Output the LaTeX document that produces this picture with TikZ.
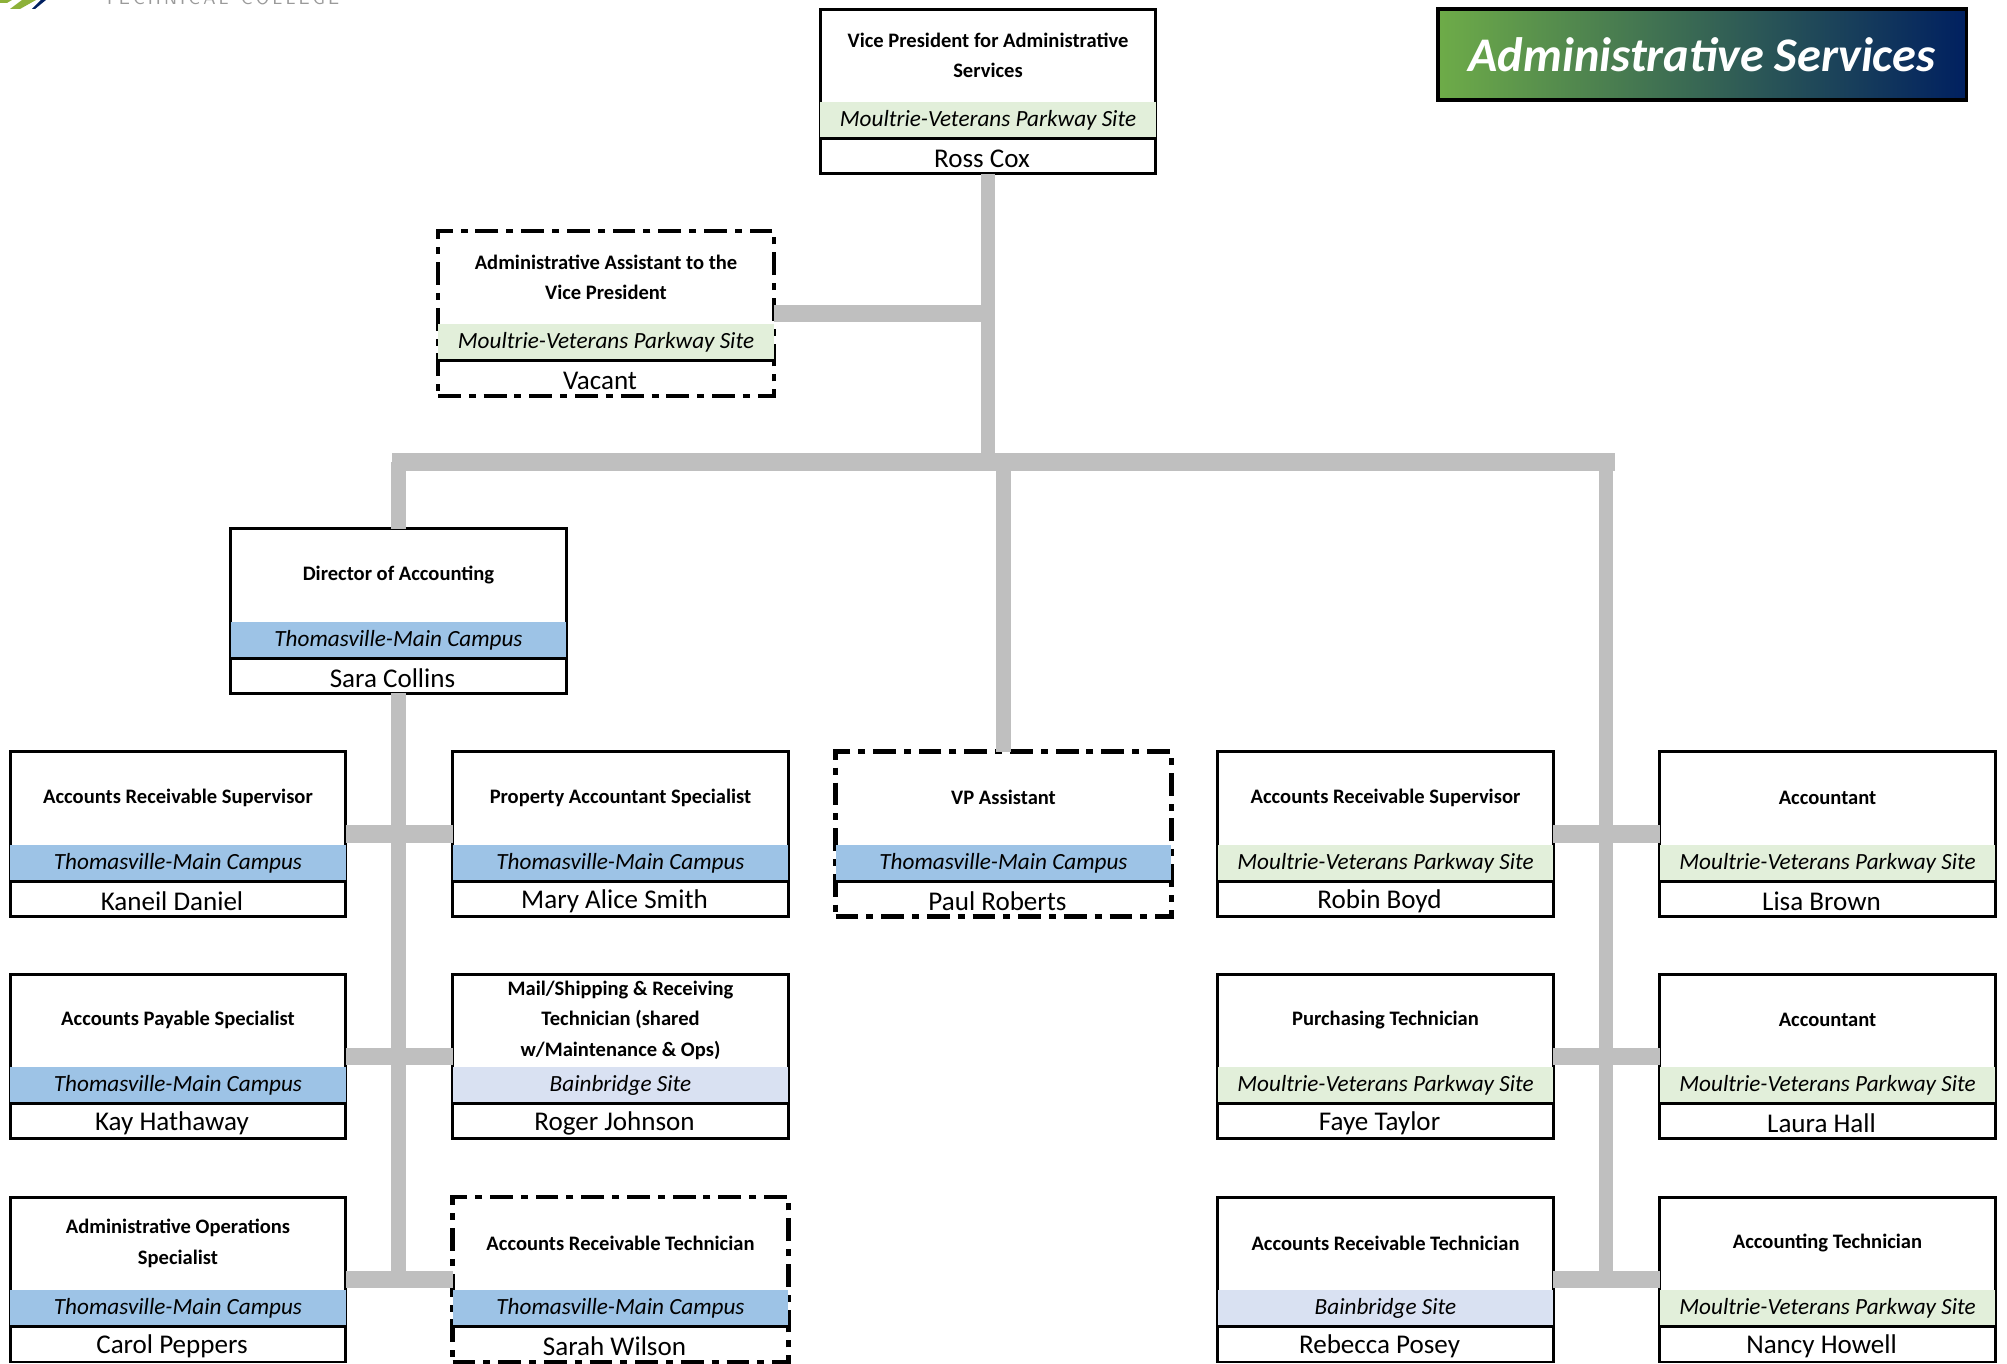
\documentclass[tikz,border=0pt]{standalone}
\usepackage{fontspec}
\setmainfont{Carlito}
\usetikzlibrary{positioning}
\definecolor{linegray}{HTML}{BFBFBF}
\definecolor{sitegreen}{HTML}{E2EFDA}
\definecolor{siteblue}{HTML}{9DC3E6}
\definecolor{sitelilac}{HTML}{D9E1F2}
\definecolor{bannergreen}{HTML}{6EAC48}
\definecolor{bannernavy}{HTML}{002060}
\definecolor{logogreen}{HTML}{8DB13A}
\definecolor{logotext}{HTML}{9A9A9A}
\tikzset{
    solidbox/.style={draw=black, line width=1.7pt, outer sep=0pt, inner sep=0pt,
        minimum width=6.72cm, minimum height=3.3cm},
    vacantbox/.style={solidbox, line width=2.8pt,
        dash pattern=on 13pt off 4.5pt on 4pt off 4.5pt},
    titlecell/.style={font=\fontsize{11.7}{17.6}\selectfont\bfseries, align=center,
        inner sep=0pt, minimum height=1.84cm},
    sitecell/.style={font=\fontsize{13.2}{15}\selectfont\itshape, inner sep=0pt,
        minimum width=6.72cm, minimum height=.72cm},
    namecell/.style={font=\fontsize{15.4}{17}\selectfont, inner sep=0pt, minimum height=.72cm},
    rowline/.style={draw=black, line width=1.7pt},
    trunk/.style={draw=linegray, line width=8.5pt},
    stem/.style={draw=linegray, line width=8pt},
    bar/.style={draw=linegray, line width=10pt},
}
% frame, then title, site band, rule and person
\newcommand{\orgbox}[8][solidbox]{%
    \node[#1] (#2) at (#3) {};
    \node[titlecell, below=0pt of #2.north] (#2-title) {#4};
    \node[sitecell, fill=#5, below=1.86cm of #2.north] (#2-site) {#6};
    \draw[rowline] (#2-site.south west) -- (#2-site.south east);
    \node[namecell, below=.03cm of #2-site, xshift=-.12cm] (#2-name) {#7};
    #8
}
\begin{document}
\begin{tikzpicture}[x=.02cm, y=-.02cm]
\useasboundingbox (0,0) rectangle (2007,1364);
% logo, cut off by the page edge
\fill[logogreen] (10,9) -- (20,9) -- (36,0) -- (22,0) -- cycle;
\fill[logogreen] (0,3) -- (7,3) -- (12,0) -- (0,0) -- cycle;
\fill[bannernavy] (32,9) -- (35,9) -- (46,0) -- (41,0) -- cycle;
\node[font=\fontsize{10.5}{12}\selectfont\sffamily, text=logotext, inner sep=0pt,
    anchor=base west] (logotext) at (103,5) {T\,E\,C\,H\,N\,I\,C\,A\,L\ \ C\,O\,L\,L\,E\,G\,E};

% top of the chart
\orgbox{vp}{988,91.5}{Vice President for Administrative\\Services}{sitegreen}{Moultrie-Veterans Parkway Site}{Ross Cox}{}
\orgbox[vacantbox]{assistant}{606,313.5}{Administrative Assistant to the\\Vice President}{sitegreen}{Moultrie-Veterans Parkway Site}{Vacant}{}
\orgbox{director}{398.5,611}{Director of Accounting}{siteblue}{Thomasville-Main Campus}{Sara Collins}{}
\orgbox[vacantbox]{vpassist}{1003.5,834}{VP Assistant}{siteblue}{Thomasville-Main Campus}{Paul Roberts}{}

% left pair of columns
\orgbox{kaneil}{178,834}{Accounts Receivable Supervisor}{siteblue}{Thomasville-Main Campus}{Kaneil Daniel}{}
\orgbox{mary}{620.5,834}{Property Accountant Specialist}{siteblue}{Thomasville-Main Campus}{Mary Alice Smith}{}
\orgbox{kay}{178,1056.5}{Accounts Payable Specialist}{siteblue}{Thomasville-Main Campus}{Kay Hathaway}{}
\orgbox{roger}{620.5,1056.5}{Mail/Shipping \& Receiving\\Technician (shared\\w/Maintenance \& Ops)}{sitelilac}{Bainbridge Site}{Roger Johnson}{}
\orgbox{carol}{178,1279.5}{Administrative Operations\\Specialist}{siteblue}{Thomasville-Main Campus}{Carol Peppers}{}
\orgbox[vacantbox]{sarah}{620.5,1279.5}{Accounts Receivable Technician}{siteblue}{Thomasville-Main Campus}{Sarah Wilson}{}

% right pair of columns
\orgbox{robin}{1385.5,834}{Accounts Receivable Supervisor}{sitegreen}{Moultrie-Veterans Parkway Site}{Robin Boyd}{}
\orgbox{lisa}{1827.5,834}{Accountant}{sitegreen}{Moultrie-Veterans Parkway Site}{Lisa Brown}{}
\orgbox{faye}{1385.5,1056.5}{Purchasing Technician}{sitegreen}{Moultrie-Veterans Parkway Site}{Faye Taylor}{}
\orgbox{laura}{1827.5,1056.5}{Accountant}{sitegreen}{Moultrie-Veterans Parkway Site}{Laura Hall}{}
\orgbox{rebecca}{1385.5,1279.5}{Accounts Receivable Technician}{sitelilac}{Bainbridge Site}{Rebecca Posey}{}
\orgbox{nancy}{1827.5,1279.5}{Accounting Technician}{sitegreen}{Moultrie-Veterans Parkway Site}{Nancy Howell}{}

% banner
\node[draw=black, line width=2.2pt, left color=bannergreen, right color=bannernavy,
    minimum width=10.58cm, minimum height=1.82cm, inner sep=0pt, outer sep=0pt, text=white,
    font=\fontsize{27.5}{30}\selectfont\bfseries\itshape] (banner) at (1702,54.5) {Administrative Services};

% connectors
\coordinate (busleft) at (392,462);
\coordinate (busright) at (1615,462);
\coordinate (rightdrop) at (1606,462);
\draw[stem] (vp) -- (vp |- busleft);
\draw[bar] (assistant) -- (assistant -| vp);
\draw[bar] (busleft) -- (busright);
\draw[stem] (director) -- (director |- busleft);
\draw[stem] (vpassist) -- (vpassist |- busleft);
\draw[stem] (director) -- (director |- carol);
\draw[stem] (rightdrop) -- (rightdrop |- nancy);
\draw[bar] (kaneil) -- (mary);
\draw[bar] (kay) -- (roger);
\draw[bar] (carol) -- (sarah);
\draw[bar] (robin) -- (lisa);
\draw[bar] (faye) -- (laura);
\draw[bar] (rebecca) -- (nancy);
\end{tikzpicture}
\end{document}
